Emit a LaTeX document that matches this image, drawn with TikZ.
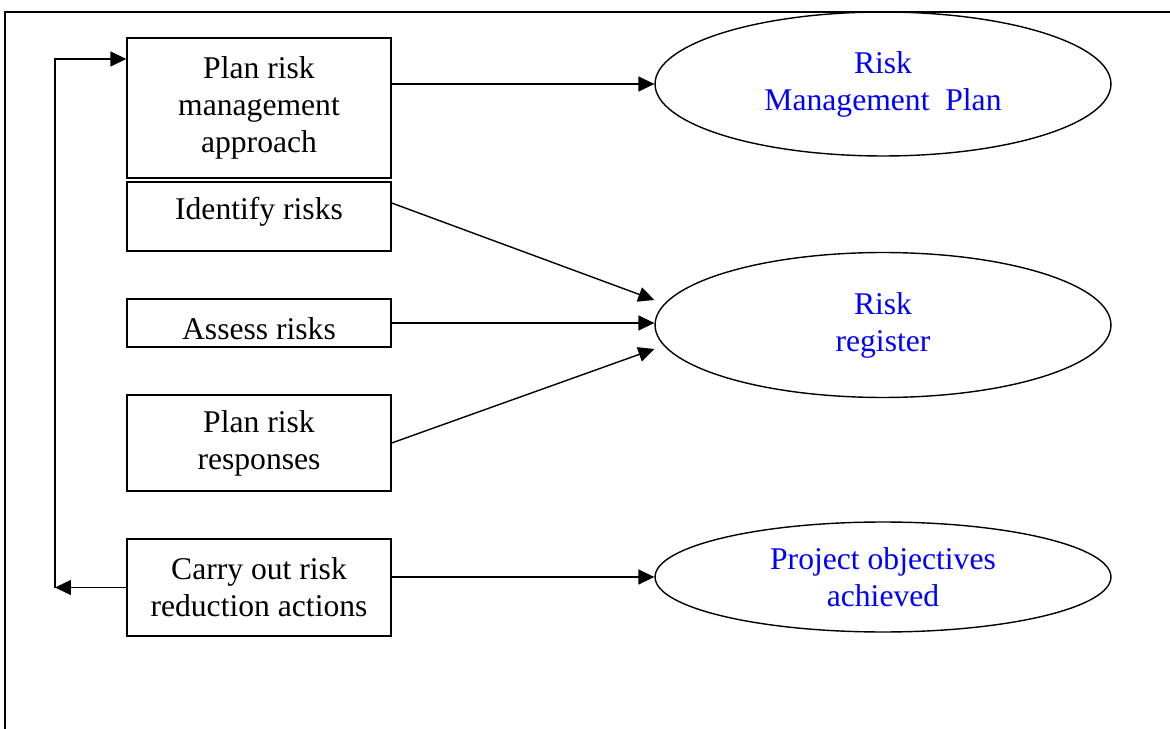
\documentclass[tikz,border=0pt]{standalone}
\usepackage{fontspec}
\setmainfont{Liberation Serif}
\usetikzlibrary{arrows.meta,shapes.geometric}

\begin{document}
\begin{tikzpicture}[x=0.02cm,y=-0.02cm,line width=0.8pt,>={Triangle[length=0.32cm,width=0.3cm]},
    task node/.style={rectangle,draw,minimum width=5.28cm,inner sep=0pt,align=center,font=\fontsize{18}{21}\selectfont},
    out node/.style={ellipse,draw,minimum width=9.12cm,inner sep=0pt,align=center,text=blue,font=\fontsize{18}{21}\selectfont}]
            \useasboundingbox (0,0) rectangle (1170,729);
            \draw (5,729) -- (5,12) -- (1170,12);

            \node[task node,minimum height=2.8cm] at (259,108) (plan) {Plan risk\\management\\approach};
            \node[task node,text height=0.76cm,text depth=0.62cm] at (259,216.5) (ident) {Identify risks};
            \node[task node,text height=0.82cm,text depth=0.14cm] at (259,323) (assess) {Assess risks};
            \node[task node,minimum height=1.92cm] at (259,443) (resp) {Plan risk\\responses};
            \node[task node,minimum height=1.94cm] at (259,587.5) (act) {Carry out risk\\reduction actions};

            \node[out node,minimum height=2.88cm] at (883,84) (rmp) {Risk\\Management\ \ Plan};
            \node[out node,minimum height=2.9cm] at (883,325) (reg) {Risk\\register};
            \node[out node,minimum height=2.2cm] at (883,577) (obj) {Project objectives\\achieved};

            \coordinate (loopt) at (55,59);
            \coordinate (loopb) at (55,587.5);

            \path[->] (plan.east |- rmp.west) edge (rmp.west);
            \path[->] ([yshift=0.27cm]ident.east) edge ([yshift=0.5cm]reg.west);
            \path[->] (assess.east) edge (assess.east -| reg.west);
            \path[->] (resp.east) edge ([yshift=-0.48cm]reg.west);
            \path[->] (act.east |- obj.west) edge (obj.west);
            \path[->] (act.west) edge (loopb);
            \draw[->] (loopb) -- (loopt) -- (loopt -| plan.west);
        \end{tikzpicture}
\end{document}
